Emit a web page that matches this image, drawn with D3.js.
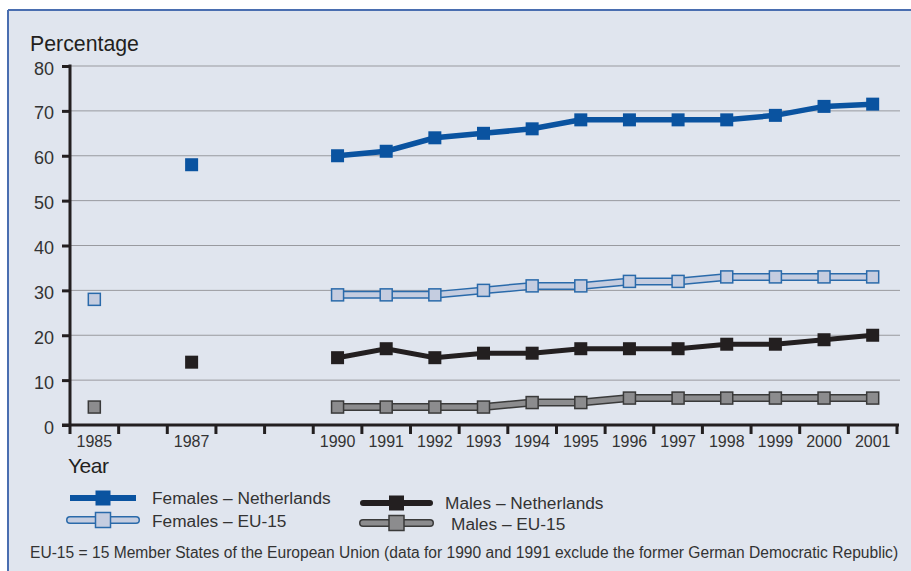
<!DOCTYPE html>
<html><head><meta charset="utf-8">
<script src="https://cdn.jsdelivr.net/npm/d3@7/dist/d3.min.js"></script>
<style>
html,body{margin:0;padding:0;background:#fff;}
svg{display:block;font-family:"Liberation Sans",Arial,sans-serif;}
</style></head>
<body><svg id="c" width="911" height="571"></svg>
<script>
const years = d3.range(1985, 2002);
const labeledYears = [1985, 1987, 1990, 1991, 1992, 1993, 1994, 1995, 1996, 1997, 1998, 1999, 2000, 2001];
const lineYears = [1990, 1991, 1992, 1993, 1994, 1995, 1996, 1997, 1998, 1999, 2000, 2001];
const yTicks = [0, 10, 20, 30, 40, 50, 60, 70, 80];

// isolated early points
const femNLEarly = [{year: 1987, v: 58}];
const femEUEarly = [{year: 1985, v: 28}];
const maleNLEarly = [{year: 1987, v: 14}];
const maleEUEarly = [{year: 1985, v: 4}];

// 1990-2001 series
const femNL = [60, 61, 64, 65, 66, 68, 68, 68, 68, 69, 71, 71.5];
const femEU = [29, 29, 29, 30, 31, 31, 32, 32, 33, 33, 33, 33];
const maleNL = [15, 17, 15, 16, 16, 17, 17, 17, 18, 18, 19, 20];
const maleEU = [4, 4, 4, 4, 5, 5, 6, 6, 6, 6, 6, 6];

const seriesNames = ["Females – Netherlands", "Females – EU-15", "Males – Netherlands", "Males – EU-15"];
const footnote = "EU-15 = 15 Member States of the European Union (data for 1990 and 1991 exclude the former German Democratic Republic)";

const svg = d3.select("#c");
// panel
svg.append("rect").attr("x", 8).attr("y", 10).attr("width", 903).attr("height", 561).attr("fill", "#e0e5ee");
svg.append("line").attr("x1", 8).attr("x2", 911).attr("y1", 10).attr("y2", 10).attr("stroke", "#4a6eb0").attr("stroke-width", 2);
svg.append("line").attr("x1", 8).attr("x2", 8).attr("y1", 10).attr("y2", 571).attr("stroke", "#4a6eb0").attr("stroke-width", 2);

const x = d3.scaleBand().domain(years).range([70, 897]).padding(0);
const y = d3.scaleLinear().domain([0, 80]).range([425, 66]);
const cx = yr => x(yr) + x.bandwidth() / 2;

// gridlines
svg.append("g").selectAll("line").data(yTicks.filter(d => d > 0)).join("line")
  .attr("x1", 70).attr("x2", 900).attr("y1", d => y(d)).attr("y2", d => y(d))
  .attr("stroke", "#999a9f").attr("stroke-width", 1);

// y axis
const yAxis = svg.append("g").attr("transform", "translate(70,0)")
  .call(d3.axisLeft(y).tickValues(yTicks).tickSize(8).tickPadding(8));
yAxis.select(".domain").remove();
yAxis.selectAll(".tick line").attr("stroke", "#231f20").attr("stroke-width", 3);
yAxis.selectAll(".tick text").attr("fill", "#333").attr("font-size", 18).attr("dy", "0.45em")
  .attr("font-family", "Liberation Sans, Arial, sans-serif");
svg.append("line").attr("x1", 70).attr("x2", 70).attr("y1", y(80) - 1.5).attr("y2", y(0)).attr("stroke", "#231f20").attr("stroke-width", 3);

// x axis
svg.append("line").attr("x1", 62).attr("x2", 899).attr("y1", y(0)).attr("y2", y(0)).attr("stroke", "#231f20").attr("stroke-width", 3);
const bounds = years.map(d => x(d)).concat([x(2001) + x.bandwidth()]);
svg.append("g").selectAll("line").data(bounds).join("line")
  .attr("x1", d => d).attr("x2", d => d).attr("y1", y(0)).attr("y2", y(0) + 9)
  .attr("stroke", "#231f20").attr("stroke-width", 3);
svg.append("g").selectAll("text").data(labeledYears).join("text")
  .attr("x", d => cx(d)).attr("y", 447).attr("text-anchor", "middle")
  .attr("font-size", 16).attr("fill", "#333").text(d => d);

svg.append("text").attr("x", 30).attr("y", 51).attr("font-size", 21.3).attr("fill", "#231f20").text("Percentage");
svg.append("text").attr("x", 68).attr("y", 473).attr("font-size", 21).attr("fill", "#231f20").attr("letter-spacing", -0.5).text("Year");

const line = d3.line().x(d => cx(d.year)).y(d => y(d.v));
const toPts = arr => lineYears.map((yr, i) => ({year: yr, v: arr[i]}));

const styles = [
  {data: femNL, early: femNLEarly, outer: null, inner: "#0a53a0", iw: 5.5, fill: "#0a53a0", mstroke: "#0a53a0", size: 13},
  {data: femEU, early: femEUEarly, outer: "#2a6aaa", inner: "#c5cde0", iw: 5, ow: 8, fill: "#c5cde0", mstroke: "#2a6aaa", size: 12},
  {data: maleNL, early: maleNLEarly, outer: null, inner: "#231f20", iw: 5, fill: "#231f20", mstroke: "#231f20", size: 13},
  {data: maleEU, early: maleEUEarly, outer: "#3a3a3a", inner: "#8c8c8e", iw: 5, ow: 8, fill: "#8c8c8e", mstroke: "#3a3a3a", size: 12}
];

styles.forEach(s => {
  const pts = toPts(s.data);
  const g = svg.append("g");
  if (s.outer) g.append("path").attr("d", line(pts)).attr("fill", "none").attr("stroke", s.outer).attr("stroke-width", s.ow);
  g.append("path").attr("d", line(pts)).attr("fill", "none").attr("stroke", s.inner).attr("stroke-width", s.iw);
  const all = s.early.concat(pts);
  const sw = s.outer ? 1.5 : 0;
  g.selectAll("rect").data(all).join("rect")
    .attr("x", d => cx(d.year) - s.size / 2).attr("y", d => y(d.v) - s.size / 2)
    .attr("width", s.size).attr("height", s.size)
    .attr("fill", s.fill).attr("stroke", s.outer ? s.mstroke : "none").attr("stroke-width", sw);
});

// legend
const legendPos = [
  {x1: 70, x2: 136, y: 498, tx: 152, ty: 504},
  {x1: 70, x2: 136, y: 520, tx: 152, ty: 527},
  {x1: 363, x2: 430, y: 503, tx: 445, ty: 509},
  {x1: 363, x2: 430, y: 523, tx: 451, ty: 530}
];
styles.forEach((s, i) => {
  const p = legendPos[i];
  const g = svg.append("g");
  if (s.outer) {
    g.append("line").attr("x1", p.x1).attr("x2", p.x2).attr("y1", p.y).attr("y2", p.y)
      .attr("stroke", s.outer).attr("stroke-width", 8).attr("stroke-linecap", "round");
    g.append("line").attr("x1", p.x1).attr("x2", p.x2).attr("y1", p.y).attr("y2", p.y)
      .attr("stroke", s.inner).attr("stroke-width", 5).attr("stroke-linecap", "round");
  } else {
    g.append("line").attr("x1", p.x1).attr("x2", p.x2).attr("y1", p.y).attr("y2", p.y)
      .attr("stroke", s.inner).attr("stroke-width", 6).attr("stroke-linecap", i === 2 ? "round" : "butt");
  }
  const m = (p.x1 + p.x2) / 2, sz = 15;
  g.append("rect").attr("x", m - sz / 2).attr("y", p.y - sz / 2).attr("width", sz).attr("height", sz)
    .attr("fill", s.fill).attr("stroke", s.outer ? s.mstroke : "none").attr("stroke-width", 1.5);
  g.append("text").attr("x", p.tx).attr("y", p.ty).attr("font-size", 17.3).attr("fill", "#333")
    .text(seriesNames[i]);
});

svg.append("text").attr("x", 30).attr("y", 558).attr("font-size", 15.6).attr("fill", "#333")
  .text(footnote);
</script>
</body></html>
